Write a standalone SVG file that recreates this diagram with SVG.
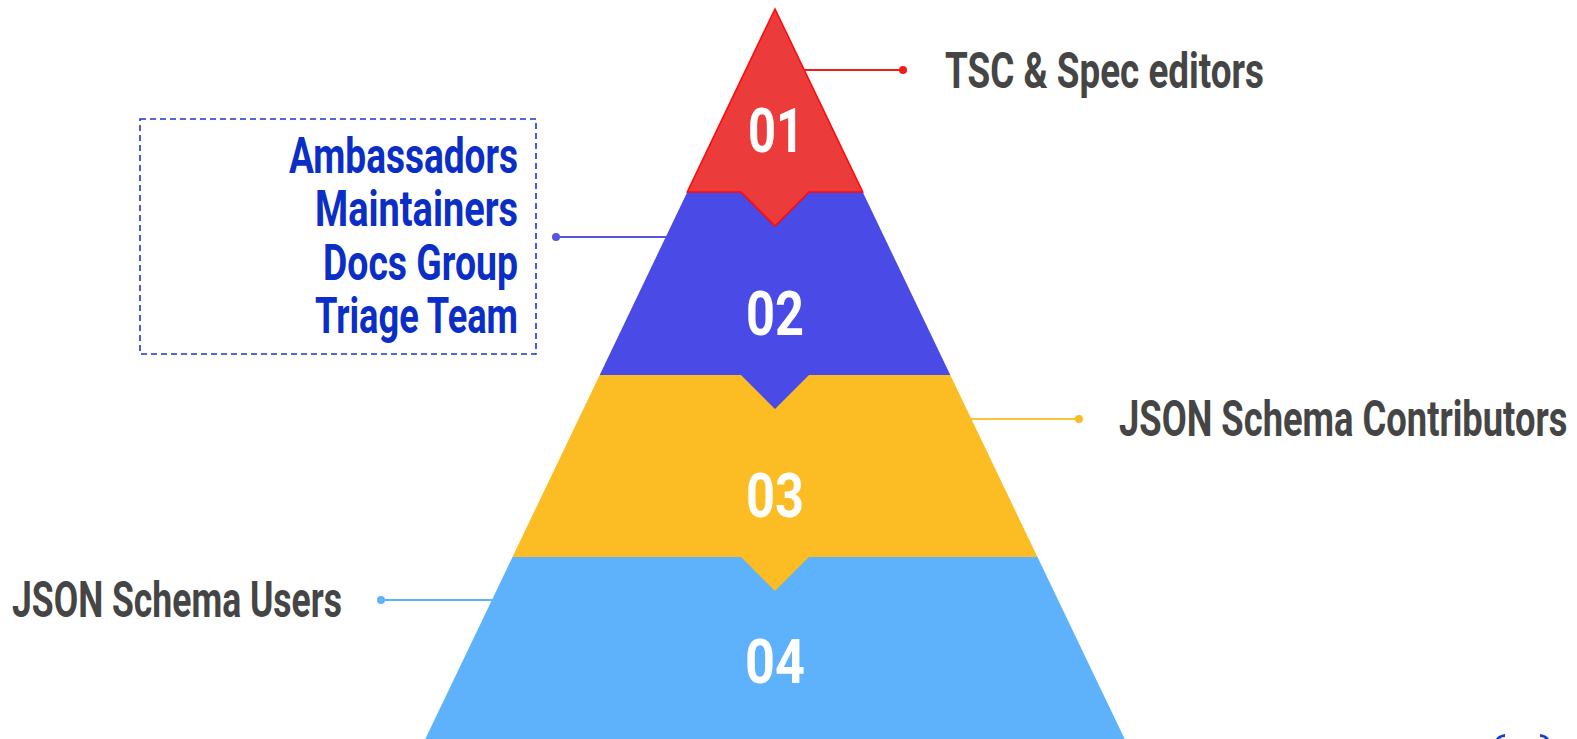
<svg xmlns="http://www.w3.org/2000/svg" width="1577" height="739" viewBox="0 0 1577 739">
<style>
.num{font-family:Roboto,"Liberation Sans",sans-serif;font-weight:700;font-size:62px;fill:#ffffff;text-anchor:middle}
.lbl{font-family:Roboto,"Liberation Sans",sans-serif;font-weight:700;font-size:50px;fill:#454545}
.blu{font-family:Roboto,"Liberation Sans",sans-serif;font-weight:700;font-size:50px;fill:#0a2ec6;text-anchor:end}
.ln{stroke-width:2;fill:none}
</style>
<rect width="1577" height="739" fill="#ffffff"/>
<g id="level4">
<polygon points="512.5,557 1037.5,557 1124.7,739 425.3,739" fill="#5eb2fb"/>
<text class="num" x="775" y="683" textLength="60" lengthAdjust="spacingAndGlyphs">04</text>
</g>
<g id="level3">
<polygon points="599.7,375 950.3,375 1037.5,557 809,557 775,591 741,557 512.5,557" fill="#fbbc24"/>
<text class="num" x="775" y="517" textLength="58" lengthAdjust="spacingAndGlyphs">03</text>
</g>
<g id="level2">
<polygon points="687.3,192 862.7,192 950.3,375 809,375 775,409 741,375 599.7,375" fill="#4a4ae6"/>
<text class="num" x="775" y="335" textLength="58" lengthAdjust="spacingAndGlyphs">02</text>
</g>
<g id="level1">
<polygon points="775,9 862.7,192 809,192 775,226 741,192 687.3,192" fill="#ec3b3b" stroke="#ff0a0a" stroke-width="1.6" stroke-linejoin="miter"/>
<text class="num" x="776" y="152" textLength="56" lengthAdjust="spacingAndGlyphs">01</text>
</g>
<g id="connectors">
<line class="ln" x1="804" y1="70" x2="902" y2="70" stroke="#f01c1c"/>
<circle cx="903" cy="70" r="4" fill="#f01c1c"/>
<line class="ln" x1="559" y1="237" x2="666" y2="237" stroke="#5555e4"/>
<circle cx="556" cy="237" r="4" fill="#5555e4"/>
<line class="ln" x1="971" y1="419" x2="1078" y2="419" stroke="#fbc23a"/>
<circle cx="1079" cy="419" r="4" fill="#fbbc24"/>
<line class="ln" x1="383" y1="600" x2="492" y2="600" stroke="#5eb2fb"/>
<circle cx="381" cy="600" r="4" fill="#5eb2fb"/>
</g>
<g id="label-tsc">
<text class="lbl" x="945" y="88" textLength="319" lengthAdjust="spacingAndGlyphs">TSC &amp; Spec editors</text>
</g>
<g id="label-contributors">
<text class="lbl" transform="matrix(0.76,0,0,1,1119,435.5)" x="0" y="0" textLength="590" lengthAdjust="spacingAndGlyphs">JSON Schema Contributors</text>
</g>
<g id="label-users">
<text class="lbl" x="12" y="617" textLength="330" lengthAdjust="spacingAndGlyphs">JSON Schema Users</text>
</g>
<g id="label-groups">
<rect x="140" y="119" width="396" height="235" fill="none" stroke="#1a36cc" stroke-width="1.6" stroke-dasharray="6,4"/>
<text class="blu" x="518" y="173" textLength="229" lengthAdjust="spacingAndGlyphs">Ambassadors</text>
<text class="blu" x="518" y="226" textLength="203" lengthAdjust="spacingAndGlyphs">Maintainers</text>
<text class="blu" x="518" y="280" textLength="195" lengthAdjust="spacingAndGlyphs">Docs Group</text>
<text class="blu" x="518" y="333" textLength="203" lengthAdjust="spacingAndGlyphs">Triage Team</text>
</g>
<g id="logo-partial" fill="#1a3fcf">
<path d="M1496,739 Q1498,735 1505,734 L1505,737 Q1501,737 1500,739 Z"/>
<path d="M1549,739 Q1547,735 1540,734 L1540,737 Q1544,737 1545,739 Z"/>
</g>
</svg>
